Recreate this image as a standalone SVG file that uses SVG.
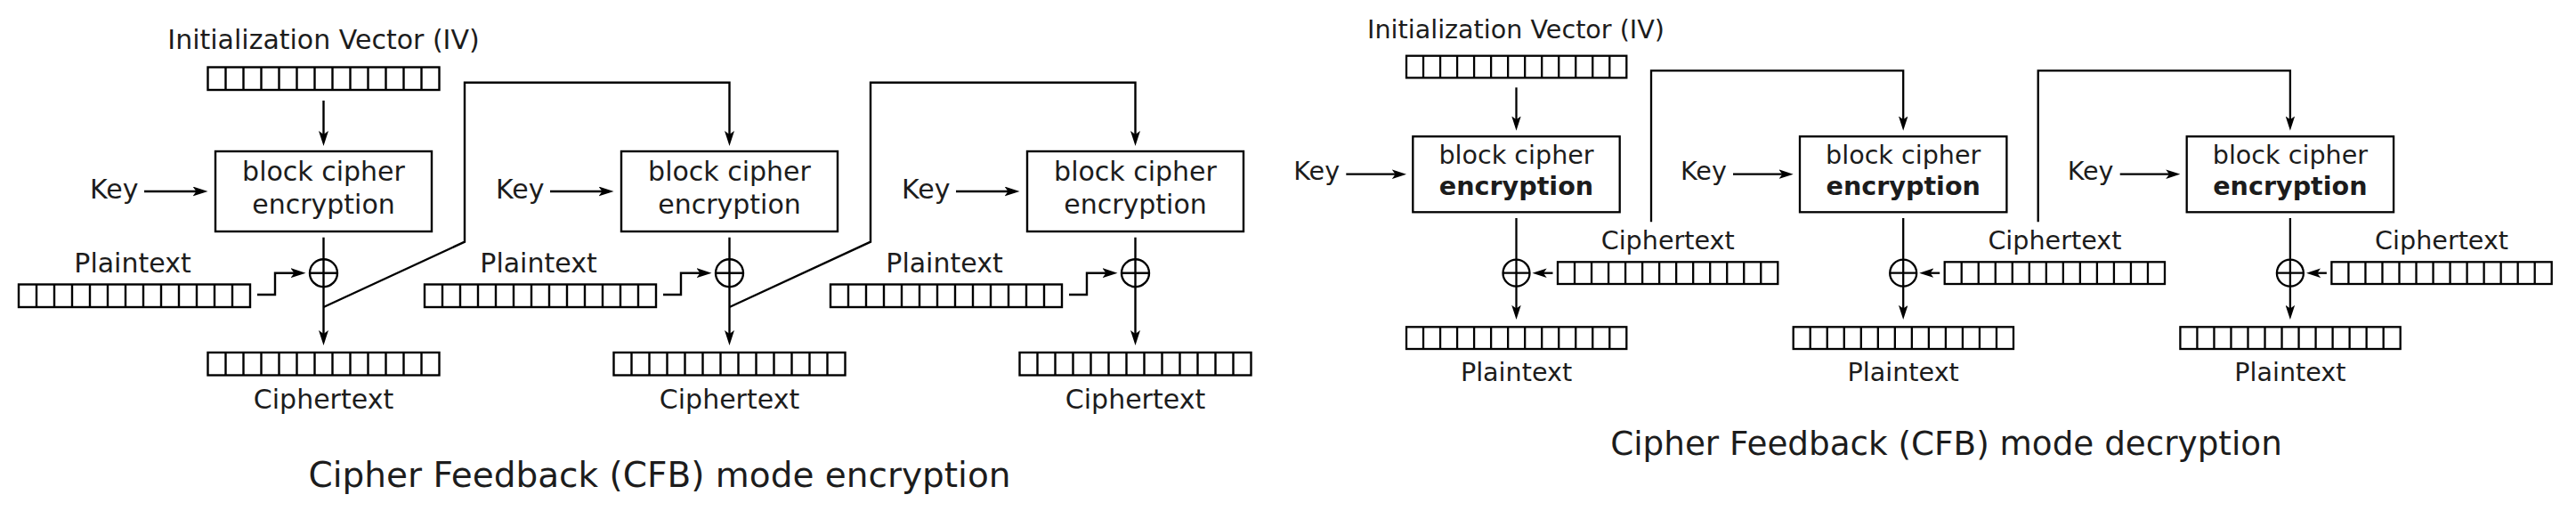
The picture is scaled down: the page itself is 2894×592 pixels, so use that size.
<svg xmlns="http://www.w3.org/2000/svg" xmlns:xlink="http://www.w3.org/1999/xlink" width="2894" height="592" viewBox="0 0 2894 592">
<style>
text{font-family:"DejaVu Sans","Liberation Sans",sans-serif;fill:#1c1c1c}
.te{font-size:30px;text-anchor:middle}
.td{font-size:28.6px;text-anchor:middle}
.ts{text-anchor:start}
.b{font-weight:bold}
.title{text-anchor:middle}
.le{fill:none;stroke:#000;stroke-width:2.4}
.ld{fill:none;stroke:#000;stroke-width:2.3}
.ae{fill:none;stroke:#000;stroke-width:2.4;marker-end:url(#ahE)}
.ad{fill:none;stroke:#000;stroke-width:2.3;marker-end:url(#ahD)}
</style>
<defs>
<marker id="ahE" markerUnits="userSpaceOnUse" viewBox="0 0 17 11" refX="11" refY="5.5" markerWidth="17" markerHeight="11" orient="auto"><path d="M0,0 L17,5.5 L0,11 L4,5.5 Z" fill="#000"/></marker>
<marker id="ahD" markerUnits="userSpaceOnUse" viewBox="0 0 16.2 10.5" refX="10.2" refY="5.25" markerWidth="16.2" markerHeight="10.5" orient="auto"><path d="M0,0 L16.2,5.25 L0,10.5 L3.8,5.25 Z" fill="#000"/></marker>
<g id="regE"><rect class="le" x="0" y="0" width="260" height="25.5"/><path class="le" d="M20,0v25.5M40,0v25.5M60,0v25.5M80,0v25.5M100,0v25.5M120,0v25.5M140,0v25.5M160,0v25.5M180,0v25.5M200,0v25.5M220,0v25.5M240,0v25.5"/></g>
<g id="regD"><rect class="ld" x="0" y="0" width="247.3" height="24.7"/><path class="ld" d="M19.02,0v24.7M38.05,0v24.7M57.07,0v24.7M76.09,0v24.7M95.12,0v24.7M114.14,0v24.7M133.16,0v24.7M152.18,0v24.7M171.21,0v24.7M190.23,0v24.7M209.25,0v24.7M228.28,0v24.7"/></g>
</defs>

<!-- ENCRYPTION -->
<g id="enc-iv">
<text class="te" x="363.5" y="54.5">Initialization Vector (IV)</text>
<use xlink:href="#regE" x="233.5" y="75.5"/>
</g>
<g id="enc-stage1">
<rect class="le" x="242" y="170" width="243" height="90"/>
<text class="te" x="363.5" y="203">block cipher</text>
<text class="te" x="363.5" y="240">encryption</text>
<text class="te ts" x="101" y="223">Key</text>
<circle class="le" cx="363.5" cy="306.7" r="15.5"/>
<text class="te" x="149" y="306">Plaintext</text>
<use xlink:href="#regE" x="21" y="319.5"/>
<use xlink:href="#regE" x="233.5" y="396"/>
<text class="te" x="363.5" y="459">Ciphertext</text>
</g>
<g id="enc-stage2">
<rect class="le" x="698" y="170" width="243" height="90"/>
<text class="te" x="819.5" y="203">block cipher</text>
<text class="te" x="819.5" y="240">encryption</text>
<text class="te ts" x="557" y="223">Key</text>
<circle class="le" cx="819.5" cy="306.7" r="15.5"/>
<text class="te" x="605" y="306">Plaintext</text>
<use xlink:href="#regE" x="477" y="319.5"/>
<use xlink:href="#regE" x="689.5" y="396"/>
<text class="te" x="819.5" y="459">Ciphertext</text>
</g>
<g id="enc-stage3">
<rect class="le" x="1154" y="170" width="243" height="90"/>
<text class="te" x="1275.5" y="203">block cipher</text>
<text class="te" x="1275.5" y="240">encryption</text>
<text class="te ts" x="1013" y="223">Key</text>
<circle class="le" cx="1275.5" cy="306.7" r="15.5"/>
<text class="te" x="1061" y="306">Plaintext</text>
<use xlink:href="#regE" x="933" y="319.5"/>
<use xlink:href="#regE" x="1145.5" y="396"/>
<text class="te" x="1275.5" y="459">Ciphertext</text>
</g>
<g id="enc-title">
<text class="title" x="741" y="547" style="font-size:39px">Cipher Feedback (CFB) mode encryption</text>
</g>

<!-- DECRYPTION -->
<g id="dec-iv">
<text class="td" x="1703" y="42.7">Initialization Vector (IV)</text>
<use xlink:href="#regD" x="1580" y="62.7"/>
</g>
<g id="dec-stage1">
<rect class="ld" x="1587.3" y="153.3" width="232.4" height="85"/>
<text class="td" x="1703.5" y="184">block cipher</text>
<text class="td b" x="1703.5" y="219">encryption</text>
<text class="td ts" x="1453.3" y="202.3">Key</text>
<circle class="ld" cx="1703.5" cy="306.7" r="15"/>
<text class="td" x="1873.7" y="280">Ciphertext</text>
<use xlink:href="#regD" x="1750" y="294.3"/>
<use xlink:href="#regD" x="1580" y="367.3"/>
<text class="td" x="1703.5" y="427.7">Plaintext</text>
</g>
<g id="dec-stage2">
<rect class="ld" x="2022" y="153.3" width="232.4" height="85"/>
<text class="td" x="2138.2" y="184">block cipher</text>
<text class="td b" x="2138.2" y="219">encryption</text>
<text class="td ts" x="1888" y="202.3">Key</text>
<circle class="ld" cx="2138.2" cy="306.7" r="15"/>
<text class="td" x="2308.4" y="280">Ciphertext</text>
<use xlink:href="#regD" x="2184.7" y="294.3"/>
<use xlink:href="#regD" x="2014.7" y="367.3"/>
<text class="td" x="2138.2" y="427.7">Plaintext</text>
</g>
<g id="dec-stage3">
<rect class="ld" x="2456.7" y="153.3" width="232.4" height="85"/>
<text class="td" x="2572.9" y="184">block cipher</text>
<text class="td b" x="2572.9" y="219">encryption</text>
<text class="td ts" x="2322.7" y="202.3">Key</text>
<circle class="ld" cx="2572.9" cy="306.7" r="15"/>
<text class="td" x="2743.1" y="280">Ciphertext</text>
<use xlink:href="#regD" x="2619.4" y="294.3"/>
<use xlink:href="#regD" x="2449.4" y="367.3"/>
<text class="td" x="2572.9" y="427.7">Plaintext</text>
</g>
<g id="dec-title">
<text class="title" x="2186.5" y="510.7" style="font-size:37.3px">Cipher Feedback (CFB) mode decryption</text>
</g>

<g id="connectors">
<!-- encryption -->
<path class="ae" d="M363.5,113 V158"/>
<path class="ae" d="M162,215 H227.5"/>
<path class="ae" d="M618,215 H683.5"/>
<path class="ae" d="M1074,215 H1139.5"/>
<path class="ae" d="M363.5,266.7 V382"/>
<path class="ae" d="M819.5,266.7 V382"/>
<path class="ae" d="M1275.5,266.7 V382"/>
<path class="le" d="M348,306.7 H379 M804,306.7 H835 M1260,306.7 H1291"/>
<path class="ae" d="M289,331 H309 V306.7 H337.5"/>
<path class="ae" d="M745,331 H765 V306.7 H793.5"/>
<path class="ae" d="M1201,331 H1221 V306.7 H1249.5"/>
<path class="ae" d="M363.5,345 L522,271.7 V92.7 H819.5 V158"/>
<path class="ae" d="M819.5,345 L978,271.7 V92.7 H1275.5 V158"/>
<!-- decryption -->
<path class="ad" d="M1703.5,98.3 V140.7"/>
<path class="ad" d="M1512.3,195.7 H1574"/>
<path class="ad" d="M1947,195.7 H2008.7"/>
<path class="ad" d="M2381.7,195.7 H2443.4"/>
<path class="ad" d="M1703.5,245 V353"/>
<path class="ad" d="M2138.2,245 V353"/>
<path class="ad" d="M2572.9,245 V353"/>
<path class="ld" d="M1688.5,306.7 H1718.5 M2123.2,306.7 H2153.2 M2557.9,306.7 H2587.9"/>
<path class="ad" d="M1744.5,306.7 H1727.5"/>
<path class="ad" d="M2179.2,306.7 H2162.2"/>
<path class="ad" d="M2613.9,306.7 H2596.9"/>
<path class="ad" d="M1855,249.3 V79.3 H2138.2 V140.7"/>
<path class="ad" d="M2289.7,249.3 V79.3 H2572.9 V140.7"/>
</g>
</svg>
